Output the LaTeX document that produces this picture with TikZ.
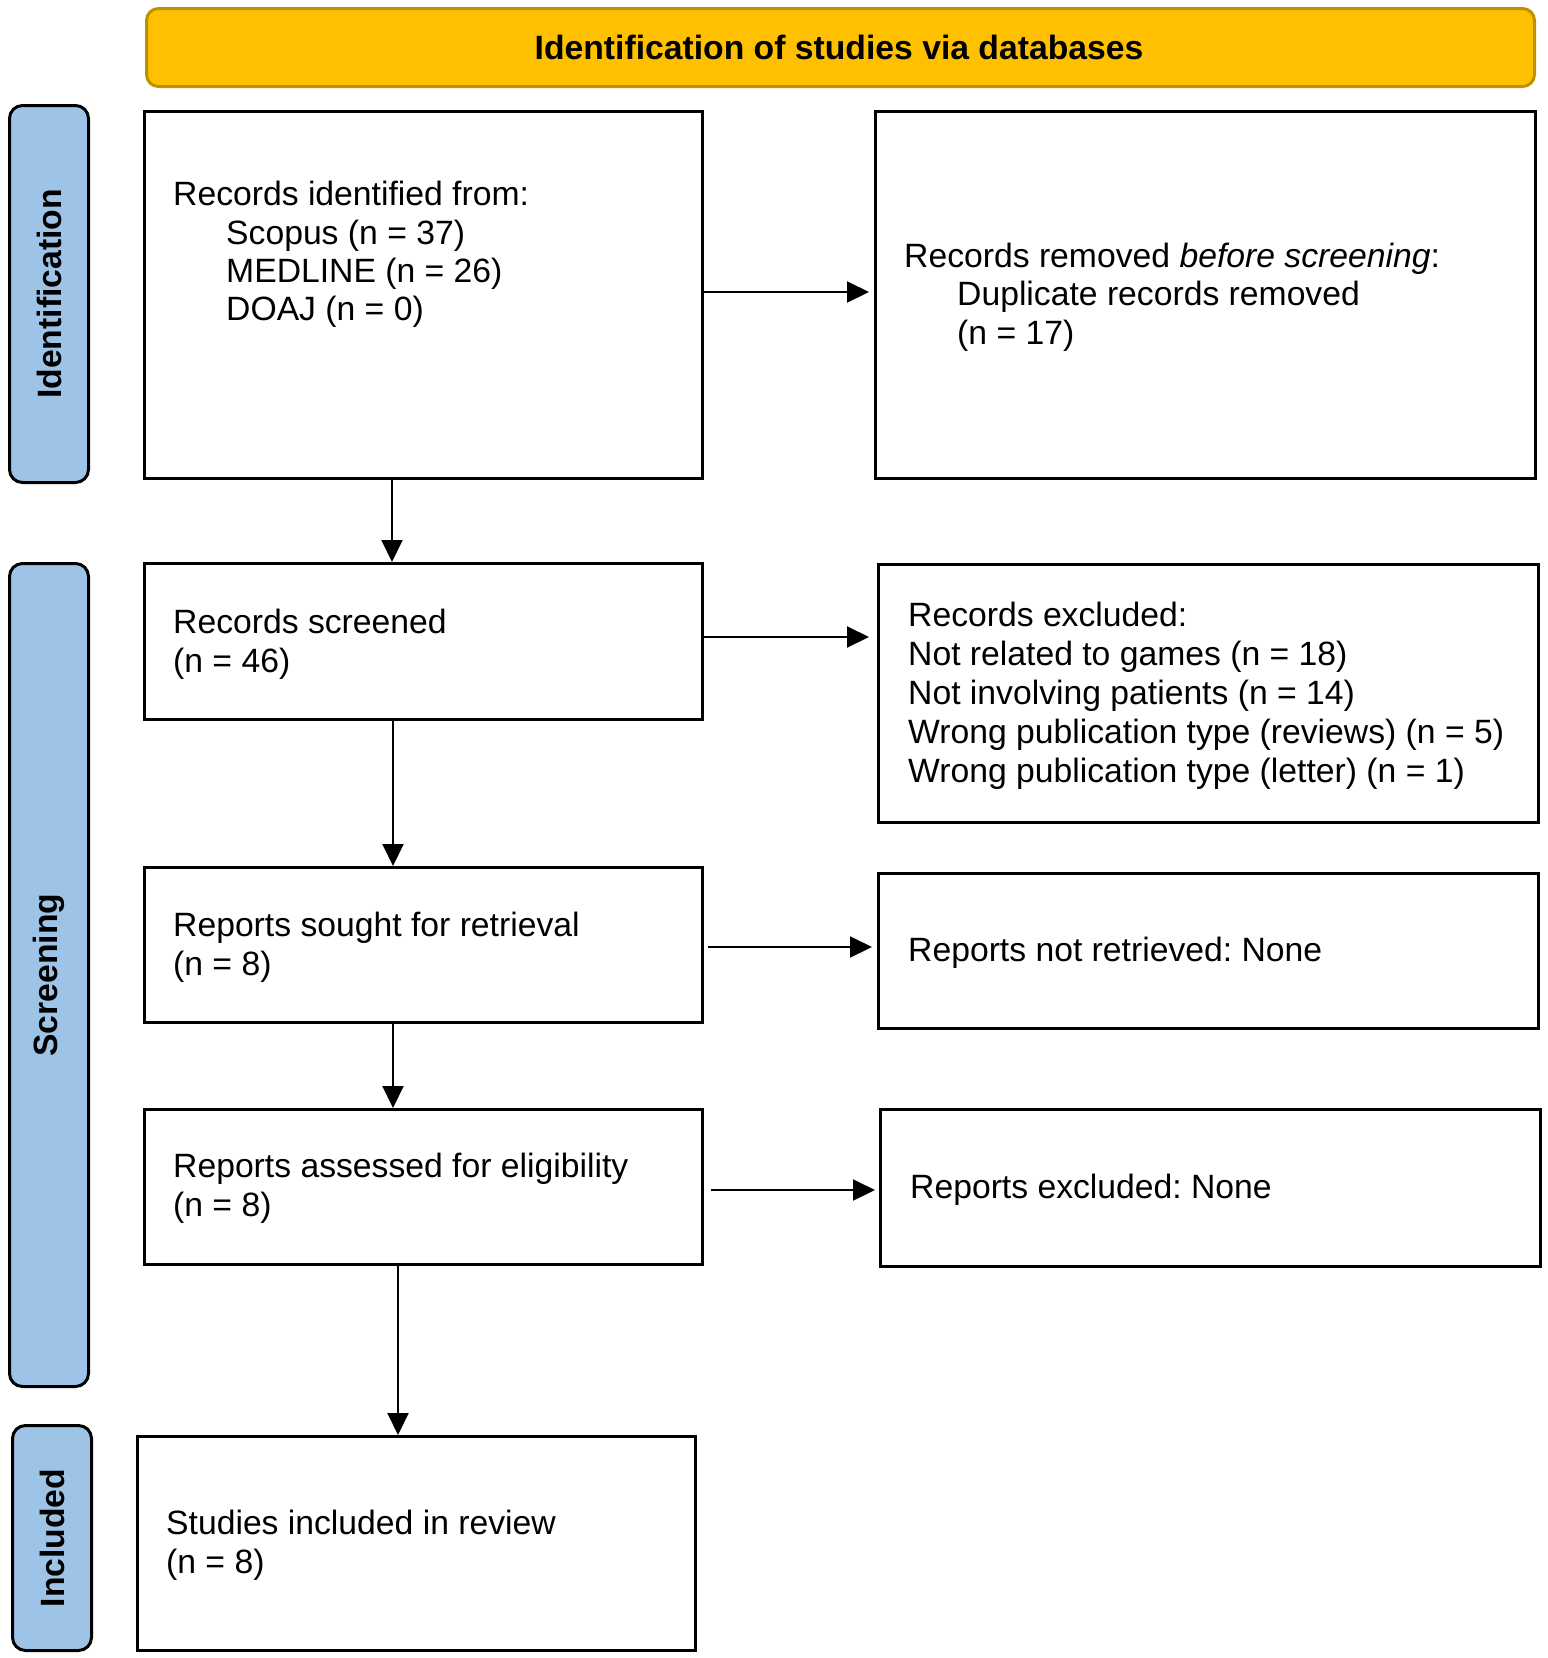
\documentclass[tikz,border=0pt]{standalone}
\usepackage{fontspec}
\setmainfont{Liberation Sans}
\usetikzlibrary{arrows.meta}
\definecolor{titlefill}{HTML}{FFC000}
\definecolor{titleline}{HTML}{BF9000}
\definecolor{sidefill}{HTML}{9DC3E6}
\newcommand{\bodyfont}{\fontsize{33.7}{39}\selectfont}
\frenchspacing
\begin{document}
\begin{tikzpicture}[x=1pt,y=-1pt,
  box/.style={draw=black,line width=3pt,anchor=north west,inner sep=0pt,fill=white},
  sidebox/.style={draw=black,line width=3pt,fill=sidefill,rounded corners=13pt,inner sep=0pt},
  sidetext/.style={font=\bodyfont\bfseries,rotate=90,inner sep=0pt},
  txt/.style={anchor=base west,inner sep=0pt,font=\bodyfont},
  arr/.style={line width=2pt,-{Triangle[length=22pt,width=21pt]}}]
\useasboundingbox (0,0) rectangle (1548,1658);
% title
\node[draw=titleline,line width=3pt,fill=titlefill,rounded corners=12pt,anchor=north west,
  minimum width=1388pt,minimum height=78pt,inner sep=0pt] (title) at (145,7) {};
\node[anchor=base,inner sep=0pt,font=\bodyfont\bfseries] (titletext) at (839,59) {Identification of studies via databases};
% side labels
\node[sidebox,anchor=north west,minimum width=79pt,minimum height=377pt] (sid) at (8,104) {};
\node[sidetext] (sidt) at (sid.center) {Identification};
\node[sidebox,anchor=north west,minimum width=79pt,minimum height=823pt] (sscr) at (8,562) {};
\node[sidetext] (sscrt) at (sscr.center) {Screening};
\node[sidebox,anchor=north west,minimum width=79pt,minimum height=225pt] (sinc) at (11,1424) {};
\node[sidetext] (sinct) at (sinc.center) {Included};
% boxes
\node[box,minimum width=558pt,minimum height=367pt] (b1) at (143,110) {};
\node[box,minimum width=660pt,minimum height=367pt] (b2) at (874,110) {};
\node[box,minimum width=558pt,minimum height=156pt] (b3) at (143,562) {};
\node[box,minimum width=660pt,minimum height=258pt] (b4) at (877,563) {};
\node[box,minimum width=558pt,minimum height=155pt] (b5) at (143,866) {};
\node[box,minimum width=660pt,minimum height=155pt] (b6) at (877,872) {};
\node[box,minimum width=558pt,minimum height=155pt] (b7) at (143,1108) {};
\node[box,minimum width=660pt,minimum height=157pt] (b8) at (879,1108) {};
\node[box,minimum width=558pt,minimum height=214pt] (b9) at (136,1435) {};
% texts
\node[txt] (t1a) at (173,205) {Records identified from:};
\node[txt] (t1b) at (226,244) {Scopus (n = 37)};
\node[txt] (t1c) at (226,282) {MEDLINE (n = 26)};
\node[txt] (t1d) at (226,320) {DOAJ (n = 0)};
\node[txt] (t2a) at (904,267) {Records removed \textit{before screening}:};
\node[txt] (t2b) at (957,305) {Duplicate records removed};
\node[txt] (t2c) at (957,344) {(n = 17)};
\node[txt] (t3a) at (173,633) {Records screened};
\node[txt] (t3b) at (173,672) {(n = 46)};
\node[txt] (t4a) at (908,626) {Records excluded:};
\node[txt] (t4b) at (908,665) {Not related to games (n = 18)};
\node[txt] (t4c) at (908,704) {Not involving patients (n = 14)};
\node[txt] (t4d) at (908,743) {Wrong publication type (reviews) (n = 5)};
\node[txt] (t4e) at (908,782) {Wrong publication type (letter) (n = 1)};
\node[txt] (t5a) at (173,936) {Reports sought for retrieval};
\node[txt] (t5b) at (173,975) {(n = 8)};
\node[txt] (t6a) at (908,961) {Reports not retrieved: None};
\node[txt] (t7a) at (173,1177) {Reports assessed for eligibility};
\node[txt] (t7b) at (173,1216) {(n = 8)};
\node[txt] (t8a) at (910,1198) {Reports excluded: None};
\node[txt] (t9a) at (166,1534) {Studies included in review};
\node[txt] (t9b) at (166,1573) {(n = 8)};
% arrow guides
\coordinate (ya) at (0,292);
\coordinate (yb) at (0,637);
\coordinate (yc) at (0,947);
\coordinate (yd) at (0,1190);
\coordinate (xa) at (392,0);
\coordinate (xb) at (393,0);
\coordinate (xc) at (398,0);
% arrows
\draw[arr,shorten >=5pt] (b1.east |- ya) -- (b2.west |- ya);
\draw[arr,shorten >=8pt] (b3.east |- yb) -- (b4.west |- yb);
\draw[arr,shorten <=4pt,shorten >=5pt] (b5.east |- yc) -- (b6.west |- yc);
\draw[arr,shorten <=7pt,shorten >=4pt] (b7.east |- yd) -- (b8.west |- yd);
\draw[arr] (b1.south -| xa) -- (b3.north -| xa);
\draw[arr] (b3.south -| xb) -- (b5.north -| xb);
\draw[arr] (b5.south -| xb) -- (b7.north -| xb);
\draw[arr] (b7.south -| xc) -- (b9.north -| xc);
\end{tikzpicture}
\end{document}
